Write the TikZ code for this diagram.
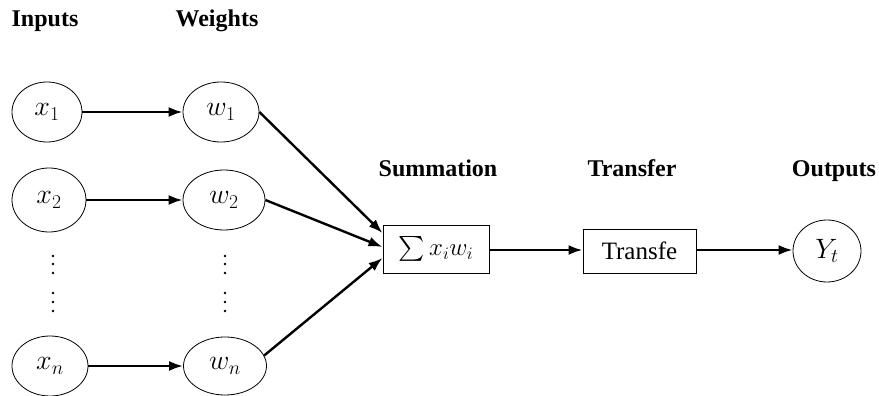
\RequirePackage{fix-cm}
\documentclass[tikz,border=0pt]{standalone}
\usepackage{fontspec}
\usepackage{exscale}
\setmainfont{Liberation Serif}
\usetikzlibrary{arrows.meta,shapes.geometric}
\begin{document}
\begin{tikzpicture}[x=1pt,y=-1pt,
  neuron/.style={draw, ellipse, line width=0.8pt, inner sep=0pt, font=\fontsize{28}{32}\selectfont},
  head/.style={font=\fontsize{24}{28}\selectfont\bfseries, anchor=base},
  box/.style={draw, rectangle, line width=1pt, inner sep=0pt, font=\fontsize{25}{29}\selectfont},
  conn/.style={line width=2.4pt, -{Latex[length=14pt,width=10pt]}},
  dotmark/.style={fill, circle, inner sep=0pt, minimum size=3pt}]
\useasboundingbox (0,0) rectangle (879,396);
% headings
\node[head] (hin) at (45,27) {Inputs};
\node[head] (hw) at (217,27) {Weights};
\node[head] (hs) at (438,176) {Summation};
\node[head] (ht) at (632,176) {Transfer};
\node[head] (ho) at (834,176) {Outputs};
% inputs
\node[neuron, minimum width=70pt, minimum height=60pt] (x1) at (47,112) {$x_1$};
\node[neuron, minimum width=74pt, minimum height=64pt] (x2) at (49,200) {$x_2$};
\node[neuron, minimum width=76pt, minimum height=60pt] (xn) at (50,366) {$x_n$};
% weights
\node[neuron, minimum width=76pt, minimum height=60pt] (w1) at (221,112) {$w_1$};
\node[neuron, minimum width=82pt, minimum height=60pt] (w2) at (224,200) {$w_2$};
\node[neuron, minimum width=83pt, minimum height=58pt] (wn) at (225,366) {$w_n$};
% dots
\foreach \xx/\nm in {53/a,225/b}{
  \foreach \yy/\k in {256/1,264/2,273/3,293/4,302/5,311/6}{
    \node[dotmark, minimum size=2.6pt] (d\nm\k) at (\xx,\yy) {};
  }
}
% boxes
\node[box, minimum width=106pt, minimum height=48pt] (sum) at (436,249) {$\sum x_i w_i$};
\node[box, minimum width=113pt, minimum height=44pt] (tr) at (639.5,251) {Transfe};
\node[neuron, minimum width=68pt, minimum height=62pt] (yt) at (827,251) {$Y_t$};
% connectors
\draw[conn] (x1) -- (w1);
\draw[conn] (x2) -- (w2);
\draw[conn] (xn) -- (wn);
\draw[conn] (w1.east) -- ([yshift=16pt]sum.west);
\draw[conn] (w2.east) -- ([yshift=2pt]sum.west);
\draw[conn] (wn.15) -- ([yshift=-9pt]sum.west);
\draw[conn] (sum.east |- 0,250) -- (tr.west |- 0,250);
\draw[conn] (tr.east |- 0,250) -- (yt.west |- 0,250);
\end{tikzpicture}
\end{document}
